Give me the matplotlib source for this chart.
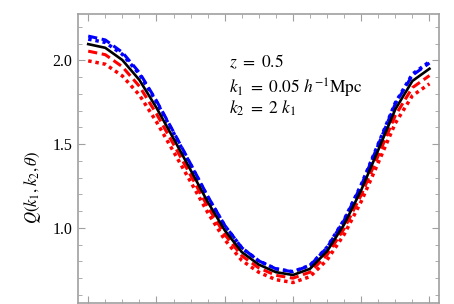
import numpy as np
import matplotlib
matplotlib.use("Agg")
import matplotlib.pyplot as plt
from matplotlib.ticker import MultipleLocator

plt.rcParams['mathtext.fontset'] = 'stix'
plt.rcParams['font.family'] = 'Liberation Serif'

# theta / pi
theta = [0.00, 0.05, 0.10, 0.15, 0.20, 0.25, 0.30, 0.35, 0.40, 0.45, 0.50,
         0.55, 0.60, 0.65, 0.70, 0.75, 0.80, 0.85, 0.90, 0.95, 1.00]

q_black = [2.097, 2.075, 2.002, 1.883, 1.717, 1.533, 1.345, 1.155, 0.985, 0.855, 0.780,
           0.735, 0.718, 0.755, 0.860, 1.020, 1.225, 1.465, 1.708, 1.877, 1.950]
q_blue_dash = [2.145, 2.122, 2.048, 1.927, 1.759, 1.573, 1.382, 1.189, 1.015, 0.881, 0.802,
               0.755, 0.737, 0.775, 0.882, 1.045, 1.253, 1.496, 1.741, 1.911, 1.984]
q_blue_dot = [2.127, 2.107, 2.036, 1.918, 1.752, 1.567, 1.377, 1.185, 1.013, 0.880, 0.802,
              0.755, 0.738, 0.776, 0.884, 1.048, 1.257, 1.501, 1.747, 1.918, 1.992]
q_red_dash = [2.055, 2.034, 1.962, 1.845, 1.681, 1.499, 1.314, 1.127, 0.960, 0.833, 0.760,
              0.716, 0.699, 0.735, 0.838, 0.995, 1.196, 1.432, 1.671, 1.837, 1.909]
q_red_dot = [1.997, 1.977, 1.907, 1.793, 1.633, 1.455, 1.275, 1.092, 0.929, 0.805, 0.734,
             0.690, 0.673, 0.708, 0.808, 0.960, 1.157, 1.389, 1.625, 1.789, 1.860]

fig = plt.figure(figsize=(4.54, 3.04), dpi=100)
ax = fig.add_axes([0.171, 0.004, 0.796, 0.950])

ax.plot(theta, q_red_dot, color='red', lw=2.5, ls=(0, (1, 1.1)), dash_capstyle='butt')
ax.plot(theta, q_red_dash, color='red', lw=2.2, ls=(0, (3, 1.5)), dash_capstyle='butt')
ax.plot(theta, q_blue_dot, color='blue', lw=2.5, ls=(0, (1, 1.1)), dash_capstyle='butt')
ax.plot(theta, q_blue_dash, color='blue', lw=2.2, ls=(0, (3, 1.5)), dash_capstyle='butt')
ax.plot(theta, q_black, color='black', lw=1.9)

ax.set_xlim(-0.031, 1.028)
ax.set_ylim(0.552, 2.277)

ax.xaxis.set_major_locator(MultipleLocator(0.2))
ax.xaxis.set_minor_locator(MultipleLocator(0.05))
ax.yaxis.set_major_locator(MultipleLocator(0.5))
ax.yaxis.set_minor_locator(MultipleLocator(0.1))
ax.set_yticks([1.0, 1.5, 2.0])
ax.set_yticklabels(['1.0', '1.5', '2.0'])
ax.set_xticklabels([])

gray = '#a0a0a0'
for s in ax.spines.values():
    s.set_color(gray)
    s.set_linewidth(1.2)
ax.tick_params(which='both', direction='in', top=True, right=True, color=gray,
               labelsize=11.5, pad=4)
ax.tick_params(which='major', length=5, width=0.8)
ax.tick_params(which='minor', length=3, width=0.6)

ax.set_ylabel(r'$Q(k_1,k_2,\theta)$', fontsize=12)
ax.yaxis.set_label_coords(-0.095, 0.40)

ax.text(0.419, 0.835, r'$z\ =\ 0.5$', transform=ax.transAxes, fontsize=12.5, va='center')
ax.text(0.419, 0.743, r'$k_1\ =\ 0.05\ h^{-1}\mathrm{Mpc}$', transform=ax.transAxes,
        fontsize=12.5, va='center')
ax.text(0.419, 0.672, r'$k_2\ =\ 2\ k_1$', transform=ax.transAxes, fontsize=12.5, va='center')

fig.savefig('out.png', dpi=100)
